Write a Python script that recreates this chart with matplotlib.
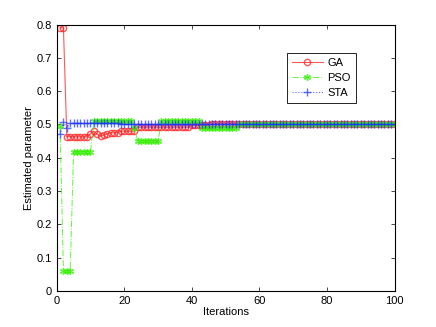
import numpy as np
import matplotlib.pyplot as plt

plt.rcParams['font.family'] = ['Liberation Sans', 'DejaVu Sans']

# iterations 1..100
iters = np.arange(1, 101)

# GA estimates
ga = ([0.79, 0.79] + [0.463] * 7 + [0.472, 0.48, 0.47, 0.465, 0.468, 0.472]
      + [0.475] * 3 + [0.48] * 5 + [0.492] * 16 + [0.497] * 6 + [0.502] * 55)

# PSO estimates
pso = ([0.495] + [0.06] * 3 + [0.418] * 6 + [0.51] * 12 + [0.49]
       + [0.45] * 7 + [0.51] * 12 + [0.49] * 11 + [0.5] * 47)

# STA estimates
sta = [0.47, 0.506, 0.49] + [0.504] * 15 + [0.5] * 82

fig = plt.figure(figsize=(4.36, 3.27), dpi=100)
ax = fig.add_axes([0.13, 0.11, 0.775, 0.815])

ax.plot(iters, ga, color='#ff2020', linestyle='-', marker='o', markersize=4.5,
        markerfacecolor='none', linewidth=0.8, alpha=0.75, label='GA')
ax.plot(iters, pso, color='#33ee00', linestyle='-.', marker=(6, 2, 0), markersize=5,
        linewidth=0.7, alpha=0.75, label='PSO')
ax.plot(iters, sta, color='#1a33ff', linestyle=':', marker='+', markersize=5.5,
        linewidth=0.8, alpha=0.7, label='STA')

ax.set_xlim(0, 100)
ax.set_ylim(0, 0.8)
ax.set_xticks(np.arange(0, 101, 20))
ax.set_yticks(np.arange(0, 0.81, 0.1))
ax.set_yticklabels(['0', '0.1', '0.2', '0.3', '0.4', '0.5', '0.6', '0.7', '0.8'])
ax.tick_params(direction='in', top=True, right=True, labelsize=8, length=3, width=0.5)
for s in ax.spines.values():
    s.set_linewidth(0.8)

ax.set_xlabel('Iterations', fontsize=8, labelpad=1)
ax.set_ylabel('Estimated parameter', fontsize=8, labelpad=2)

leg = ax.legend(loc='upper left', bbox_to_anchor=(0.665, 0.915), fontsize=8,
                fancybox=False, framealpha=1, edgecolor='black', handlelength=2.8,
                borderpad=0.45, labelspacing=0.45, handletextpad=0.4)
leg.get_frame().set_linewidth(0.6)

fig.savefig('out.png', dpi=100)
